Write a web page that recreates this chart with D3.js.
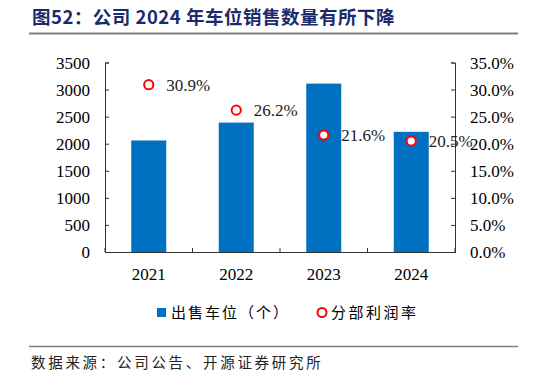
<!DOCTYPE html>
<html>
<head>
<meta charset="utf-8">
<title>图52</title>
<script src="https://d3js.org/d3.v7.min.js" charset="utf-8"></script>
<style>
  body { margin: 0; background: #fff; }
  svg { display: block; }
</style>
</head>
<body>
<script>
var years = ["2021", "2022", "2023", "2024"];
var spaces = [2060, 2390, 3110, 2220];
var margins = [30.9, 26.2, 21.6, 20.5];
var leftTicks = [0, 500, 1000, 1500, 2000, 2500, 3000, 3500];
var rightTicks = [0, 5, 10, 15, 20, 25, 30, 35];

var W = 546, H = 377;
var x0 = 105, x1 = 455, yTop = 62.5, yBot = 252;

var svg = d3.select("body").append("svg")
    .attr("width", W).attr("height", H);

// title
svg.append("text")
    .attr("x", 32).attr("y", 24)
    .style("font-family", "'Noto Sans CJK SC'")
    .style("font-weight", "bold")
    .style("font-size", "18.5px")
    .style("letter-spacing", "0.5px")
    .style("fill", "#1b2a6b")
    .text("图52：公司 2024 年车位销售数量有所下降");

svg.append("line").attr("x1", 29).attr("x2", 518).attr("y1", 33.5).attr("y2", 33.5)
    .style("stroke", "#7f7f7f").style("stroke-width", 2);
svg.append("line").attr("x1", 29).attr("x2", 518).attr("y1", 346.5).attr("y2", 346.5)
    .style("stroke", "#7f7f7f").style("stroke-width", 1.5);

svg.append("text")
    .attr("x", 31).attr("y", 368)
    .style("font-family", "'Noto Sans CJK SC'")
    .style("font-size", "14.5px")
    .style("letter-spacing", "2.7px")
    .style("fill", "#222")
    .text("数据来源：公司公告、开源证券研究所");

var xScale = d3.scaleBand().domain(years).range([x0, x1]).paddingInner(0.6).paddingOuter(0.3);
var xCenter = d3.scaleBand().domain(years).range([x0, x1]);
var yL = d3.scaleLinear().domain([0, 3500]).range([yBot, yTop]);
var yR = d3.scaleLinear().domain([0, 35]).range([yBot, yTop]);

var serif = "'Liberation Serif', 'Times New Roman', serif";

// bars
svg.selectAll("rect.bar").data(years).enter().append("rect")
    .attr("class", "bar")
    .attr("x", function(d) { return xScale(d); })
    .attr("width", xScale.bandwidth())
    .attr("y", function(d, i) { return yL(spaces[i]); })
    .attr("height", function(d, i) { return yBot - yL(spaces[i]); })
    .style("fill", "#0070c0");

// left axis
var gl = svg.append("g").attr("transform", "translate(" + x0 + ",0)")
    .call(d3.axisRight(yL).tickValues(leftTicks).tickSize(4).tickFormat(""));
gl.selectAll("path,line").style("stroke", "#333");
svg.selectAll("text.ly").data(leftTicks).enter().append("text")
    .attr("class", "ly")
    .attr("x", 90).attr("y", function(d) { return yL(d) + 6; })
    .attr("text-anchor", "end")
    .style("font-family", serif).style("font-size", "17px")
    .text(function(d) { return d; });

// right axis
var gr = svg.append("g").attr("transform", "translate(" + x1 + ",0)")
    .call(d3.axisLeft(yR).tickValues(rightTicks).tickSize(4).tickFormat(""));
gr.selectAll("path,line").style("stroke", "#333");
svg.selectAll("text.ry").data(rightTicks).enter().append("text")
    .attr("class", "ry")
    .attr("x", 470).attr("y", function(d) { return yR(d) + 6; })
    .style("font-family", serif).style("font-size", "17px")
    .text(function(d) { return d.toFixed(1) + "%"; });

// x axis
var gx = svg.append("g").attr("transform", "translate(0," + yBot + ")")
    .call(d3.axisTop(xCenter).tickSize(0).tickFormat(""));
gx.selectAll("path").style("stroke", "#333");
svg.selectAll("line.xt").data(d3.range(years.length + 1)).enter().append("line")
    .attr("class", "xt")
    .attr("x1", function(i) { return x0 + i * xCenter.step(); })
    .attr("x2", function(i) { return x0 + i * xCenter.step(); })
    .attr("y1", yBot).attr("y2", yBot - 4)
    .style("stroke", "#333");
svg.selectAll("text.xl").data(years).enter().append("text")
    .attr("class", "xl")
    .attr("x", function(d) { return xCenter(d) + xCenter.bandwidth() / 2; })
    .attr("y", 280)
    .attr("text-anchor", "middle")
    .style("font-family", serif).style("font-size", "17px")
    .text(function(d) { return d; });

// margin markers
svg.selectAll("circle.m").data(years).enter().append("circle")
    .attr("class", "m")
    .attr("cx", function(d) { return xCenter(d) + xCenter.bandwidth() / 2; })
    .attr("cy", function(d, i) { return yR(margins[i]); })
    .attr("r", 4.6)
    .style("fill", "#fff").style("stroke", "#ff0000").style("stroke-width", 2);
svg.selectAll("text.ml").data(years).enter().append("text")
    .attr("class", "ml")
    .attr("x", function(d) { return xCenter(d) + xCenter.bandwidth() / 2 + 17.5; })
    .attr("y", function(d, i) { return yR(margins[i]) + 6; })
    .style("font-family", serif).style("font-size", "17px")
    .style("fill", "#222")
    .text(function(d, i) { return margins[i].toFixed(1) + "%"; });

// legend
svg.append("rect").attr("x", 157).attr("y", 308).attr("width", 9).attr("height", 9)
    .style("fill", "#0070c0");
svg.append("text").attr("x", 171).attr("y", 318)
    .style("font-family", "'Noto Sans CJK SC'").style("font-size", "15px")
    .style("letter-spacing", "2px")
    .text("出售车位（个）");
svg.append("circle").attr("cx", 322).attr("cy", 312.5).attr("r", 4.5)
    .style("fill", "#fff").style("stroke", "#ff0000").style("stroke-width", 2);
svg.append("text").attr("x", 331).attr("y", 318)
    .style("font-family", "'Noto Sans CJK SC'").style("font-size", "15px")
    .style("letter-spacing", "2.5px")
    .text("分部利润率");
</script>
</body>
</html>
